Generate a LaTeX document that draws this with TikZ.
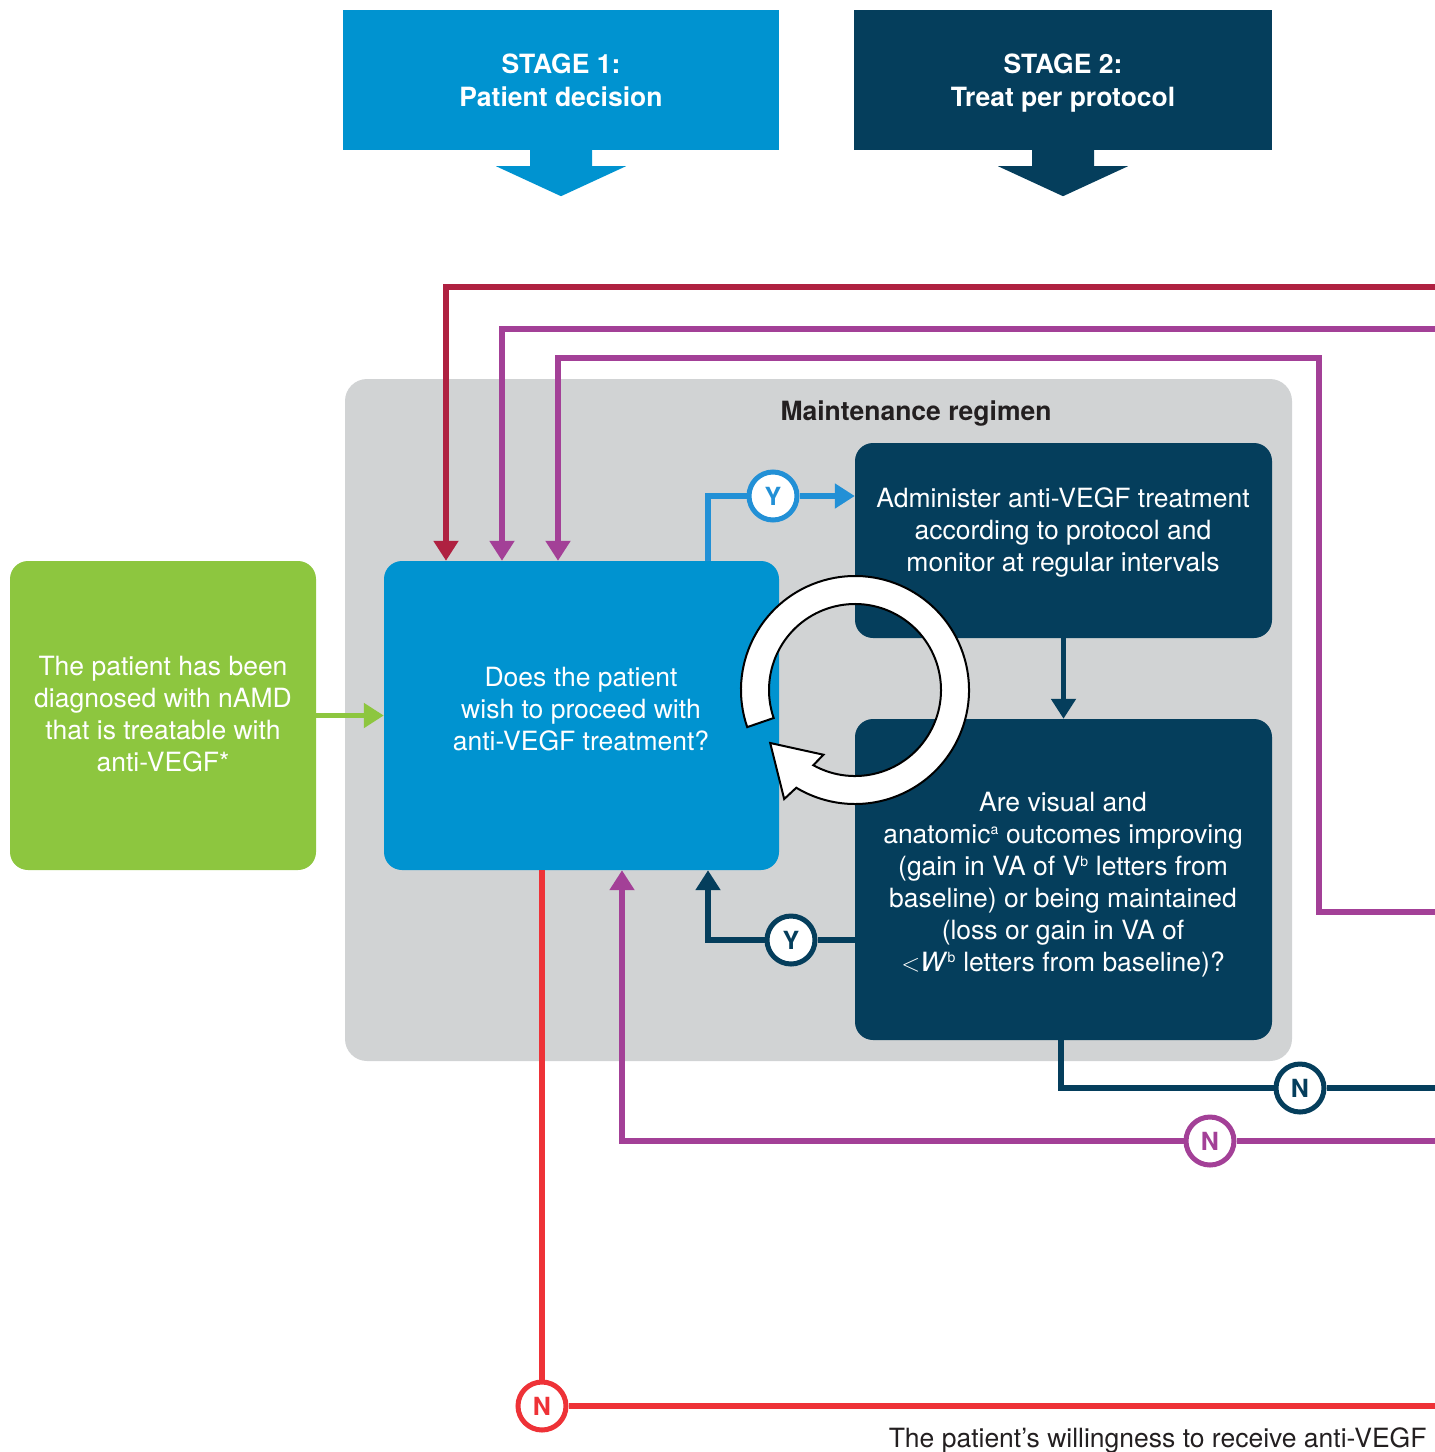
\documentclass[tikz,border=0pt]{standalone}
\usepackage{fontspec}
\setmainfont{TeX Gyre Heros}
\usetikzlibrary{arrows.meta,positioning}
\definecolor{stageblue}{HTML}{0093D0}
\definecolor{navy}{HTML}{053E5C}
\definecolor{leaf}{HTML}{8DC63F}
\definecolor{panel}{HTML}{D1D3D4}
\definecolor{wine}{HTML}{AF2141}
\definecolor{plum}{HTML}{A34097}
\definecolor{alarm}{HTML}{EE3237}
\definecolor{yesblue}{HTML}{2290D6}
\definecolor{ink}{HTML}{231F20}
\newcommand{\supmark}[1]{\textsuperscript{\fontsize{14}{14}\selectfont #1}}

\begin{document}
\begin{tikzpicture}[x=1pt, y=-1pt,
    every node/.style={font=\fontsize{26.5}{32}\selectfont},
    stagebox/.style={minimum width=#1, minimum height=140, inner sep=0, text depth=0pt, text=white, align=center, font=\fontsize{26.5}{33}\selectfont\bfseries},
    panelbox/.style={rounded corners=18, inner sep=0},
    txt/.style={text=white, align=center},
    link/.style={line width=5.5},
    arr/.style={link, -{Triangle[width=24pt,length=20pt]}},
    badge/.style={circle, draw=#1, fill=white, text=#1, line width=5, minimum size=48, inner sep=0, font=\fontsize{25}{25}\selectfont\bfseries}]

    \useasboundingbox (0,0) rectangle (1435,1452);

    \node (s1) [stagebox=436, fill=stageblue] at (561,80) {STAGE 1:\\Patient decision};
    \node (s2) [stagebox=418, fill=navy] at (1063,80) {STAGE 2:\\Treat per protocol};
    \fill[stageblue, shift={(s1.south)}] (-31,-1) -- (-31,16) -- (-65,16) -- (0,46) -- (65,16) -- (31,16) -- (31,-1) -- cycle;
    \fill[navy, shift={(s2.south)}] (-31,-1) -- (-31,16) -- (-65,16) -- (0,46) -- (65,16) -- (31,16) -- (31,-1) -- cycle;

    \fill[panel, rounded corners=22] (345,379) rectangle (1292,1061);
    \node (title) [text=ink, font=\fontsize{26.5}{32}\selectfont\bfseries] at (916,414) {Maintenance regimen};

    \node (diag) [panelbox, fill=leaf, minimum width=306, minimum height=309] at (163,715.5) {};
    \node (ask) [panelbox, fill=stageblue, minimum width=395, minimum height=309] at (581.5,715.5) {};
    \node (admin) [panelbox, fill=navy, minimum width=417, minimum height=195] at (1063.5,540.5) {};
    \node (check) [panelbox, fill=navy, minimum width=417, minimum height=321] at (1063.5,879.5) {};

    \node (diagtxt) [txt] at (163,714.5) {The patient has been\\diagnosed with nAMD\\that is treatable with\\anti-VEGF*};
    \node (asktxt) [txt] at (581,709) {Does the patient\\wish to proceed with\\anti-VEGF treatment?};
    \node (admintxt) [txt] at (1063,532) {Administer anti-VEGF treatment\\according to protocol and\\monitor at regular intervals};
    \node (checktxt) [txt] at (1063,885) {Are visual and\\anatomic\supmark{a} outcomes improving\\(gain in VA of V\supmark{b} letters from\\baseline) or being maintained\\(loss or gain in VA of\\$<$\textit{W}\supmark{b} letters from baseline)?};

    \coordinate (E) at (1435,0);
    \coordinate (yt) at (708,496);
    \coordinate (nb) at (1061,1088);
    \coordinate (mb) at (622,1141);
    \coordinate (t1) at (446,287);
    \coordinate (t2) at (502,329);
    \coordinate (t3) at (558,358);
    \coordinate (t3r) at (1319,912);

    \node (y1) [badge=yesblue] at (773,496) {Y};
    \node (y2) [badge=navy] at (791,940) {Y};
    \node (n1) [badge=navy] at (1300,1088) {N};
    \node (n2) [badge=plum] at (1210,1141) {N};
    \node (n3) [badge=alarm] at (542,1406) {N};

    \draw[arr, leaf] (diag) -- (ask);
    \draw[arr, navy] (admin) -- (check);
    \draw[link, yesblue] (yt |- ask.north) -- (yt) -- (y1);
    \draw[arr, yesblue] (y1) -- (y1 -| admin.west);
    \draw[link, navy] (check.west |- y2) -- (y2);
    \draw[arr, navy] (y2) -- (yt |- y2) -- (yt |- ask.south);
    \draw[link, navy] (check.south -| nb) -- (nb) -- (n1) -- (n1 -| E);
    \draw[arr, plum] (n2 -| E) -- (n2) -- (mb) -- (mb |- ask.south);
    \draw[link, alarm] (ask.south -| n3) -- (n3) -- (n3 -| E);
    \draw[arr, wine] (t1 -| E) -- (t1) -- (t1 |- ask.north);
    \draw[arr, plum] (t2 -| E) -- (t2) -- (t2 |- ask.north);
    \draw[arr, plum] (E |- t3r) -- (t3r) -- (t3r |- t3) -- (t3) -- (t3 |- ask.north);

    \filldraw[fill=white, draw=black, line width=2, shift={(855,690)}, yscale=-1]
        (199:114) arc[start angle=199, end angle=-121, radius=114] -- (-123:130) -- (-148:100)
        -- (-116:72) -- (-119:86) arc[start angle=-119, end angle=199, radius=86] -- cycle;

    \node (note) [text=ink, anchor=base east] at (1430,1447) {The patient’s willingness to receive anti-VEGF};
\end{tikzpicture}
\end{document}
